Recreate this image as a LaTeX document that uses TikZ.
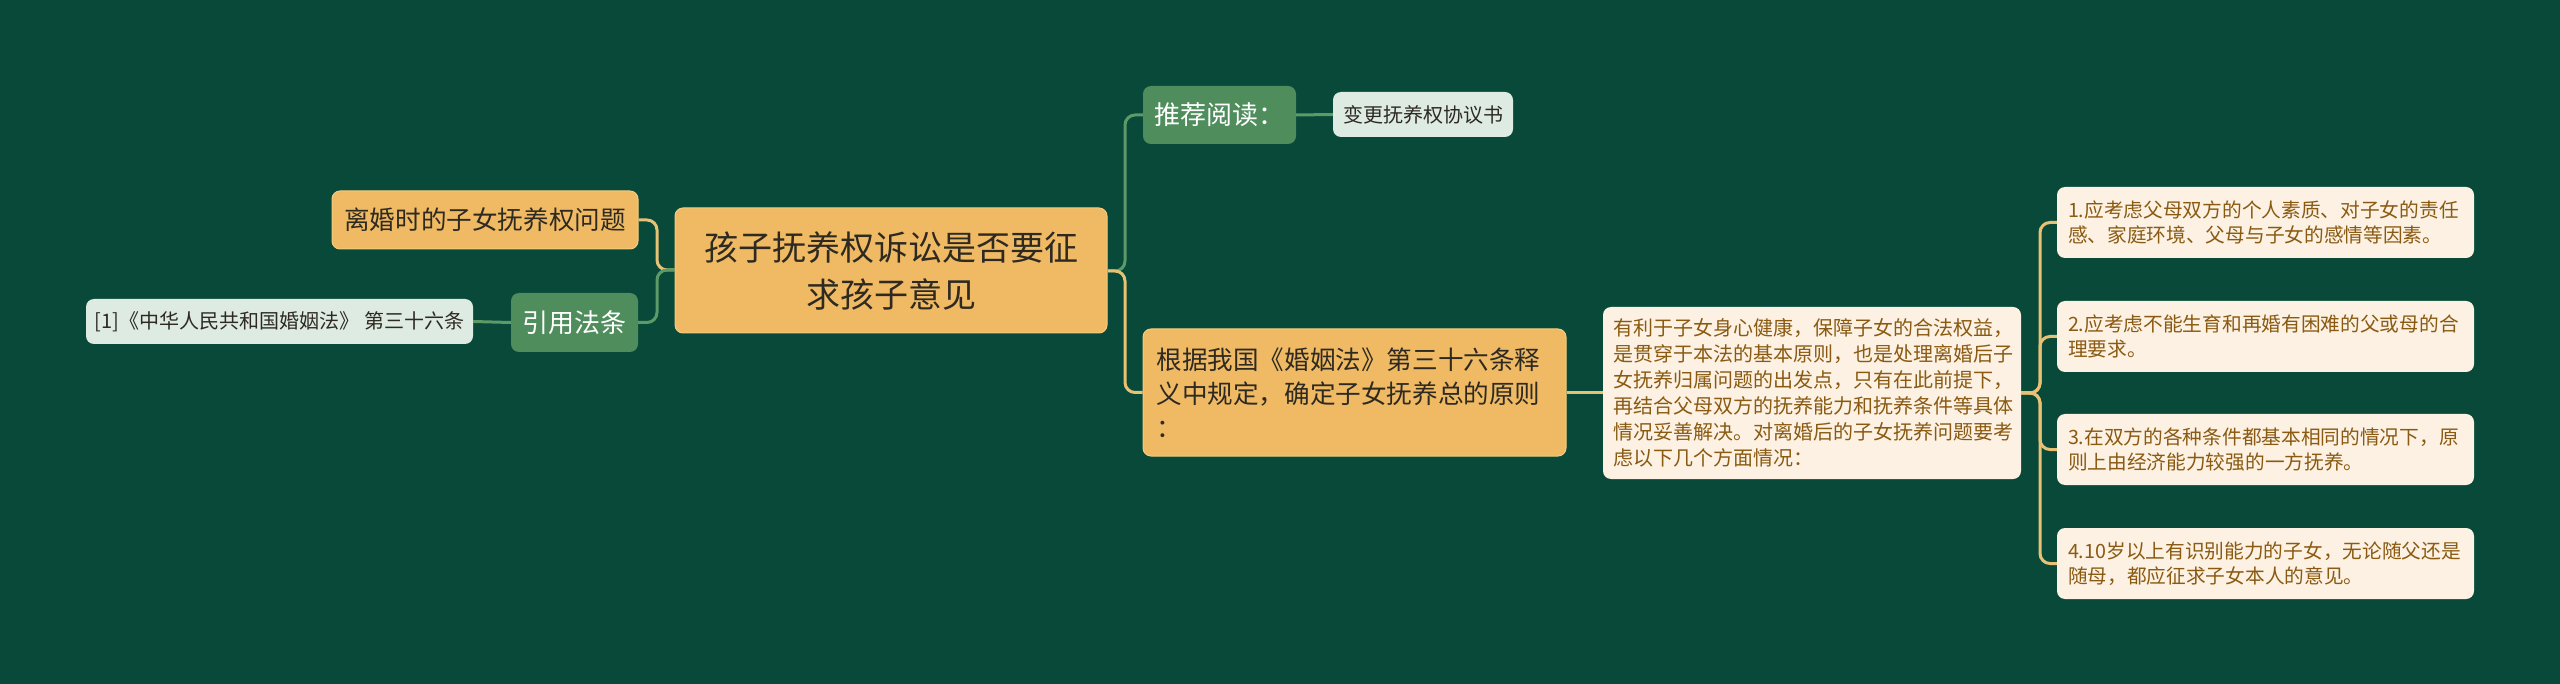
\documentclass[tikz,border=0pt]{standalone}
\usepackage{fontspec}
\setmainfont{Noto Sans CJK SC}
\definecolor{bgc}{HTML}{08493A}
\definecolor{orfill}{HTML}{EFBA63}
\definecolor{orborder}{HTML}{F5CC80}
\definecolor{grfill}{HTML}{4F8D5D}
\definecolor{ltfill}{HTML}{DEEBE2}
\definecolor{crfill}{HTML}{FCF1E2}
\definecolor{browntext}{HTML}{8A5A12}
\definecolor{darktext}{HTML}{2E2A22}
\definecolor{orline}{HTML}{E8C274}
\definecolor{grline}{HTML}{5C9A68}
\begin{document}
\begin{tikzpicture}[x=1pt,y=-1pt,
  basebox/.style={rectangle, rounded corners=8pt, inner sep=0pt},
  orangebox/.style={basebox, fill=orfill, draw=orborder, line width=1pt, text=darktext},
  greenbox/.style={basebox, fill=grfill, text=white},
  lightbox/.style={basebox, fill=ltfill, text=darktext},
  creambox/.style={basebox, fill=crfill, text=browntext},
  oline/.style={draw=orline, line width=3pt, rounded corners=10pt},
  gline/.style={draw=grline, line width=3pt, rounded corners=10pt}]
\fill[bgc] (0,0) rectangle (2560,684);
\useasboundingbox (0,0) rectangle (2560,684);

% central
\node[orangebox, minimum width=432pt, minimum height=125pt, text width=400pt, align=center,
  font={\fontsize{34}{47}\selectfont}] (c) at (891,270.5) {孩子抚养权诉讼是否要征\\求孩子意见};

% left
\node[orangebox, minimum width=306pt, minimum height=58pt, align=center,
  font={\fontsize{25.6}{32}\selectfont}] (lh) at (485,220) {离婚时的子女抚养权问题};
\node[greenbox, minimum width=127pt, minimum height=59pt, align=center,
  font={\fontsize{26}{32}\selectfont}] (yy) at (574.5,322.5) {引用法条};
\node[lightbox, minimum width=387pt, minimum height=45pt, align=center,
  font={\fontsize{20}{26}\selectfont}] (fl) at (279.5,321.5) {[1]《中华人民共和国婚姻法》 第三十六条};

% right
\node[greenbox, minimum width=153pt, minimum height=58pt, align=center,
  font={\fontsize{26}{32}\selectfont}] (tj) at (1219.5,115) {推荐阅读：};
\node[lightbox, minimum width=180pt, minimum height=45pt, align=center,
  font={\fontsize{20}{26}\selectfont}] (bg) at (1423,114.5) {变更抚养权协议书};
\node[orangebox, minimum width=423pt, minimum height=127pt, text width=396pt, align=left,
  font={\fontsize{25.6}{34}\selectfont}] (gj) at (1354.5,392.5) {根据我国《婚姻法》第三十六条释\\义中规定，确定子女抚养总的原则\\：};
\node[creambox, minimum width=418pt, minimum height=172pt, text width=398pt, align=left,
  font={\fontsize{20}{26}\selectfont}] (yl) at (1812,393) {有利于子女身心健康，保障子女的合法权益，\\是贯穿于本法的基本原则，也是处理离婚后子\\女抚养归属问题的出发点，只有在此前提下，\\再结合父母双方的抚养能力和抚养条件等具体\\情况妥善解决。对离婚后的子女抚养问题要考\\虑以下几个方面情况：};

\tikzset{itembox/.style={creambox, minimum width=417pt, minimum height=71pt, text width=395pt, align=left,
  font={\fontsize{19.7}{25}\selectfont}}}
\node[itembox] (i1) at (2265.5,222.5) {1.应考虑父母双方的个人素质、对子女的责任\\感、家庭环境、父母与子女的感情等因素。};
\node[itembox] (i2) at (2265.5,336.5) {2.应考虑不能生育和再婚有困难的父或母的合\\理要求。};
\node[itembox] (i3) at (2265.5,449.5) {3.在双方的各种条件都基本相同的情况下，原\\则上由经济能力较强的一方抚养。};
\node[itembox] (i4) at (2265.5,563.5) {4.10岁以上有识别能力的子女，无论随父还是\\随母，都应征求子女本人的意见。};

% connectors
\coordinate (lj) at (657,270);
\coordinate (rj) at (1125,271);
\coordinate (yj) at (2040,393);

\draw[oline] (c.west |- lj) -- (lj) |- (lh.east);
\draw[gline] (c.west |- lj) -- (lj) |- (yy.east);
\draw[gline] (yy.west) -- (fl.east);

\draw[gline] (c.east |- rj) -- (rj) |- (tj.west);
\draw[oline] (c.east |- rj) -- (rj) |- (gj.west);
\draw[gline] (tj.east) -- (bg.west);
\draw[oline] (gj.east) -- (yl.west |- gj.east);

\draw[oline] (yl.east) -- (yj) |- (i1.west);
\draw[oline] (yl.east) -- (yj) |- (i2.west);
\draw[oline] (yl.east) -- (yj) |- (i3.west);
\draw[oline] (yl.east) -- (yj) |- (i4.west);
\end{tikzpicture}
\end{document}
